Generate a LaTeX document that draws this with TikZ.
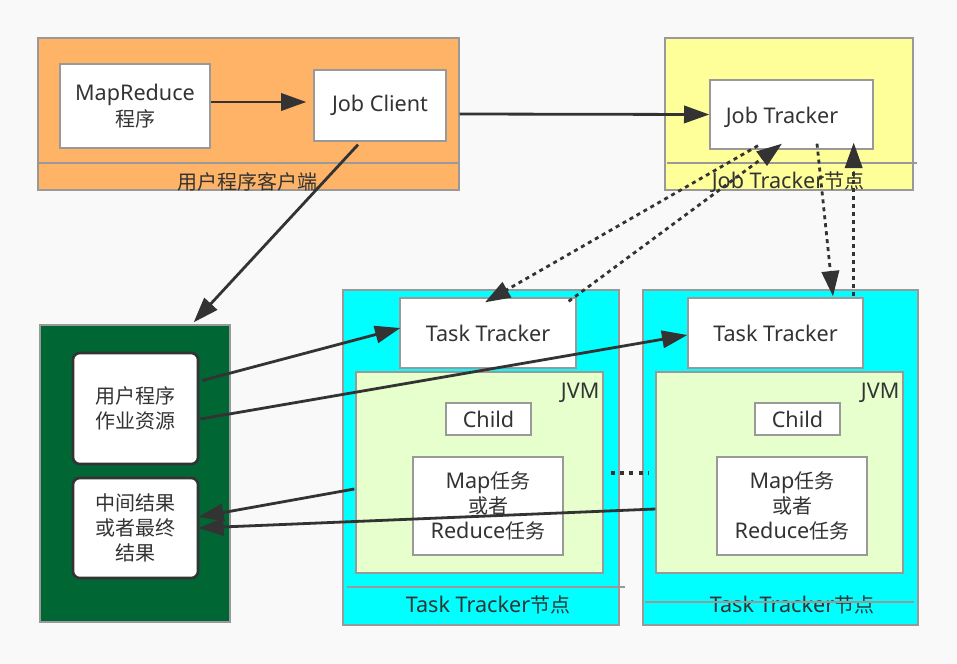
\documentclass[tikz,border=0pt]{standalone}
\usepackage{fontspec}
\setmainfont[Scale=1.08]{Noto Sans}
\newfontfamily\cjk{Noto Sans CJK SC}
\usetikzlibrary{arrows.meta,calc}
\definecolor{clientcolor}{RGB}{255,179,102}
\definecolor{jtcolor}{RGB}{255,255,153}
\definecolor{ttcolor}{RGB}{0,255,255}
\definecolor{hdfscolor}{RGB}{0,102,51}
\definecolor{jvmcolor}{RGB}{230,255,204}
\definecolor{linecolor}{RGB}{51,51,51}
\definecolor{bordercolor}{RGB}{153,153,153}
\definecolor{bgcolor}{RGB}{249,249,249}

\begin{document}
\begin{tikzpicture}[x=0.75pt,y=-0.75pt,
  font=\fontsize{15}{19}\selectfont, text=linecolor,
  sz/.style 2 args={minimum width=#1*0.75pt,minimum height=#2*0.75pt},
  cont/.style={draw=bordercolor,line width=1pt,inner sep=0pt},
  box/.style={draw=bordercolor,line width=1pt,fill=white,inner sep=0pt,align=center},
  rbox/.style={draw=linecolor,line width=2pt,fill=white,rounded corners=5pt,inner sep=0pt,align=center},
  sep/.style={draw=bordercolor,line width=1pt},
  arr/.style={draw=linecolor,line width=2.1pt,-{Triangle[length=19pt,width=13pt]}},
  darr/.style={arr,dash pattern=on 3pt off 3pt},
  dots/.style={draw=linecolor,line width=3pt,dash pattern=on 3pt off 4pt}]

\fill[bgcolor] (0,0) rectangle (957,664);
\useasboundingbox (0,0) rectangle (957,664);

\node[cont,fill=clientcolor,sz={421}{152}] (client) at (248.5,114) {};
\draw[sep] (38,163) -- (459,163);
\node (clientlabel) at (247,182) {\cjk 用户程序客户端};
\node[box,sz={150}{84}] (mr) at (135,106) {MapReduce\\{\cjk 程序}};
\node[box,sz={132}{71}] (jc) at (380,105.5) {\raisebox{-2pt}{Job Client}};

\node[cont,fill=jtcolor,sz={248}{152}] (jtnode) at (789,114) {};
\draw[sep] (667,163) -- (917,163);
\node (jtlabel) at (788,182) {Job Tracker{\cjk 节点}};
\node[box,sz={163}{69}] (jt) at (791.5,114.5) {};
\node (jttext) at (782,117) {Job Tracker};

\node[cont,fill=hdfscolor,sz={190}{297}] (hdfs) at (135,473.5) {};
\node[rbox,sz={125}{111}] (res) at (135.5,408.5) {{\cjk 用户程序}\\{\cjk 作业资源}};
\node[rbox,sz={125}{100}] (out) at (135.5,528) {{\cjk 中间结果}\\{\cjk 或者最终}\\{\cjk 结果}};

\node[cont,fill=ttcolor,sz={276}{335}] (ttnode1) at (481,457.5) {};
\draw[sep] (347,587) -- (625,587);
\node (ttlabel1) at (488,605) {Task Tracker{\cjk 节点}};
\node[box,sz={176}{70}] (tt1) at (488,333) {\raisebox{-2pt}{Task Tracker}};
\node[cont,fill=jvmcolor,sz={247}{201}] (jvm1) at (479.5,472.5) {};
\node[anchor=north east,inner sep=0pt] (jvmlabel1) at ($(jvm1.north east)+(-4,11)$) {JVM};
\node[box,sz={85}{32}] (child1) at (488.5,419) {Child};
\node[box,sz={150}{98}] (map1) at (488,506) {Map{\cjk 任务}\\{\cjk 或者}\\Reduce{\cjk 任务}};

\node[cont,fill=ttcolor,sz={275}{335}] (ttnode2) at (780.5,457.5) {};
\node (ttlabel2) at (792,605) {Task Tracker{\cjk 节点}};
\draw[sep] (645,602) -- (914,602);
\node[box,sz={175}{70}] (tt2) at (775.5,333) {\raisebox{-2pt}{Task Tracker}};
\node[cont,fill=jvmcolor,sz={247}{201}] (jvm2) at (779.5,472.5) {};
\node[anchor=north east,inner sep=0pt] (jvmlabel2) at ($(jvm2.north east)+(-4,11)$) {JVM};
\node[box,sz={85}{32}] (child2) at (797.5,419) {Child};
\node[box,sz={150}{98}] (map2) at (792,506) {Map{\cjk 任务}\\{\cjk 或者}\\Reduce{\cjk 任务}};

\draw[arr] ($(mr.east)+(0,-4)$) -- ($(jc.west)+(-7,-3.5)$);
\draw[arr] (client.east) -- (jt.west);
\draw[arr] ($(jc.south)+(-22,3)$) -- ($(hdfs.north east)+(-37,-2)$);
\draw[arr] ($(res.east)+(3,-28)$) -- ($(tt1.west)+(1,-5)$);
\draw[arr] ($(res.east)+(1,10.5)$) -- ($(tt2.west)+(0,2)$);
\draw[arr] ($(jvm1.west)+(-1,16.5)$) -- ($(out.east)+(-1,-11)$);
\draw[arr] ($(jvm2.west)+(0,36.5)$) -- ($(out.east)+(-1,0)$);

\draw[darr] ($(jt.south)+(-33.5,-4)$) -- ($(tt1.north)+(-3,5)$);
\draw[darr] ($(tt1.north east)+(-8,4)$) -- ($(jt.south)+(-9.5,-6)$);
\draw[darr] ($(jt.south)+(25.5,-6)$) -- ($(tt2.north)+(57.5,-1)$);
\draw[darr] ($(tt2.north east)+(-10,-1)$) -- ($(jt.south east)+(-20,-7)$);
\draw[dots] ($(jvm1.east)+(7,0)$) -- ($(jvm2.west)+(-6,0)$);

\end{tikzpicture}
\end{document}
